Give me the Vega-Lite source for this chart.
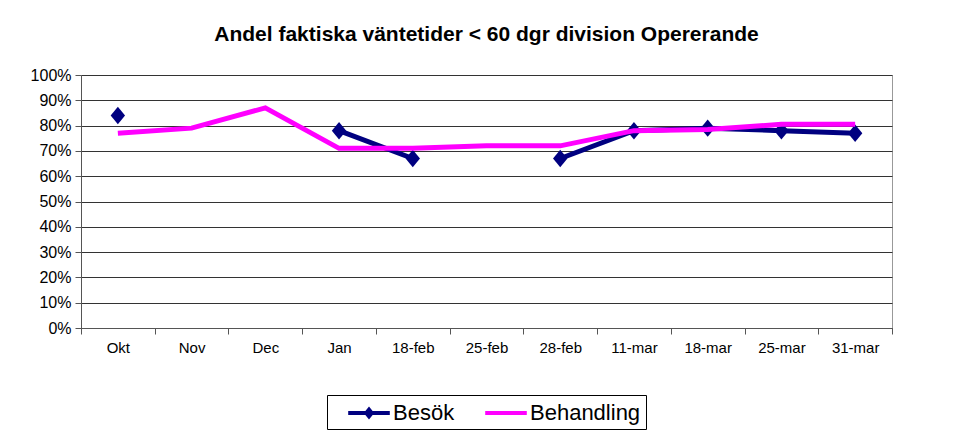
{
  "$schema": "https://vega.github.io/schema/vega-lite/v6.json",
  "autosize": {"type": "none"},
  "padding": {"left": 81, "top": 75, "right": 77, "bottom": 113},
  "width": 811,
  "height": 253,
  "background": "white",
  "title": {
    "text": "Andel faktiska väntetider < 60 dgr division Opererande",
    "font": "Liberation Sans",
    "fontSize": 21,
    "fontWeight": "bold",
    "color": "black",
    "anchor": "middle",
    "offset": 22
  },
  "data": {
    "values": [
      {"period": "Okt", "serie": "Besök", "andel": 0.84},
      {"period": "Nov", "serie": "Besök", "andel": null},
      {"period": "Dec", "serie": "Besök", "andel": null},
      {"period": "Jan", "serie": "Besök", "andel": 0.78},
      {"period": "18-feb", "serie": "Besök", "andel": 0.67},
      {"period": "25-feb", "serie": "Besök", "andel": null},
      {"period": "28-feb", "serie": "Besök", "andel": 0.67},
      {"period": "11-mar", "serie": "Besök", "andel": 0.78},
      {"period": "18-mar", "serie": "Besök", "andel": 0.79},
      {"period": "25-mar", "serie": "Besök", "andel": 0.78},
      {"period": "31-mar", "serie": "Besök", "andel": 0.77},
      {"period": "Okt", "serie": "Behandling", "andel": 0.77},
      {"period": "Nov", "serie": "Behandling", "andel": 0.79},
      {"period": "Dec", "serie": "Behandling", "andel": 0.87},
      {"period": "Jan", "serie": "Behandling", "andel": 0.71},
      {"period": "18-feb", "serie": "Behandling", "andel": 0.71},
      {"period": "25-feb", "serie": "Behandling", "andel": 0.72},
      {"period": "28-feb", "serie": "Behandling", "andel": 0.72},
      {"period": "11-mar", "serie": "Behandling", "andel": 0.78},
      {"period": "18-mar", "serie": "Behandling", "andel": 0.785},
      {"period": "25-mar", "serie": "Behandling", "andel": 0.805},
      {"period": "31-mar", "serie": "Behandling", "andel": 0.805}
    ]
  },
  "encoding": {
    "x": {
      "field": "period",
      "type": "nominal",
      "sort": null,
      "scale": {"type": "band", "paddingInner": 0, "paddingOuter": 0},
      "axis": {
        "title": null,
        "labelAngle": 0,
        "tickBand": "extent",
        "grid": false,
        "labelFont": "Liberation Sans",
        "labelFontSize": 15,
        "labelColor": "black",
        "labelPadding": 6,
        "domainColor": "#555",
        "tickColor": "#555",
        "tickSize": 6
      }
    },
    "y": {
      "field": "andel",
      "type": "quantitative",
      "scale": {"domain": [0, 1], "nice": false},
      "axis": {
        "title": null,
        "values": [0, 0.1, 0.2, 0.3, 0.4, 0.5, 0.6, 0.7, 0.8, 0.9, 1],
        "format": ".0%",
        "grid": true,
        "gridColor": "#333",
        "gridOpacity": 1,
        "labelFont": "Liberation Sans",
        "labelFontSize": 16,
        "labelColor": "black",
        "labelPadding": 4,
        "domainColor": "#555",
        "tickColor": "#555",
        "tickSize": 6
      }
    },
    "color": {
      "field": "serie",
      "type": "nominal",
      "scale": {"domain": ["Besök", "Behandling"], "range": ["#000080", "#FF00FF"]},
      "legend": {
        "title": null,
        "orient": "none",
        "legendX": 246,
        "legendY": 320,
        "direction": "horizontal",
        "strokeColor": "black",
        "fillColor": "white",
        "padding": 5,
        "labelFont": "Liberation Sans",
        "labelFontSize": 22,
        "labelColor": "black",
        "labelOffset": 11,
        "columnPadding": 14,
        "symbolOffset": 24,
        "symbolSize": 676,
        "symbolStrokeWidth": 0,
        "symbolType": "M-1.6,-0.15H1.6V0.15H-1.6Z",
        "encode": {
          "symbols": {
            "update": {
              "shape": {"signal": "datum.value === 'Besök' ? 'M-1.6,-0.15H-0.28L0,-0.5L0.28,-0.15H1.6V0.15H0.28L0,0.5L-0.28,0.15H-1.6Z' : 'M-1.6,-0.15H1.6V0.15H-1.6Z'"},
              "fill": {"scale": "color", "field": "value"},
              "strokeWidth": {"value": 0},
              "opacity": {"value": 1}
            }
          }
        }
      }
    }
  },
  "layer": [
    {
      "transform": [{"filter": "datum.serie === 'Besök'"}],
      "mark": {"type": "line", "strokeWidth": 5, "invalid": "break-paths-filter-domains"}
    },
    {
      "transform": [{"filter": "datum.serie === 'Besök' && datum.andel != null"}],
      "mark": {"type": "point", "filled": true, "opacity": 1, "size": 230, "shape": "M0,-1.15L0.95,0L0,1.15L-0.95,0Z"}
    },
    {
      "transform": [{"filter": "datum.serie === 'Behandling'"}],
      "mark": {"type": "line", "strokeWidth": 5, "invalid": "break-paths-filter-domains"}
    }
  ],
  "config": {
    "view": {"stroke": "#999", "strokeWidth": 1}
  }
}
